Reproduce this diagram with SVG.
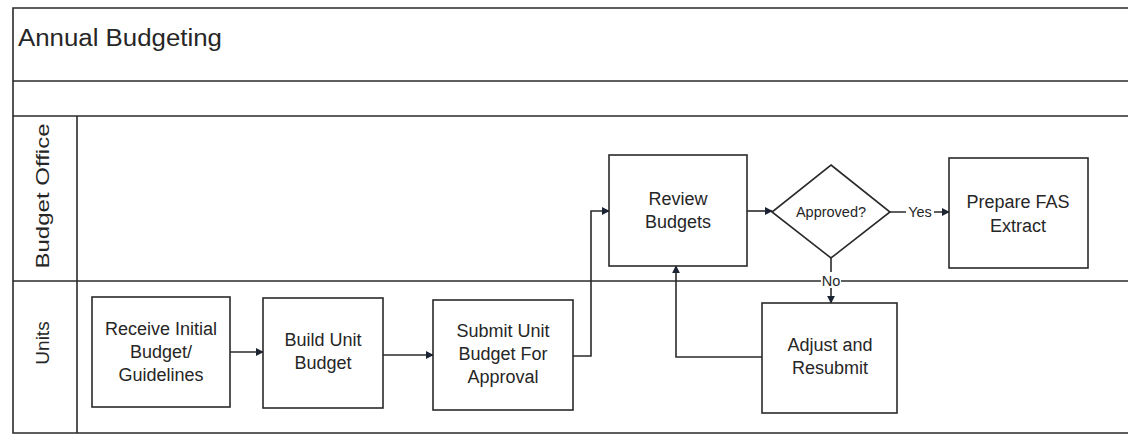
<svg xmlns="http://www.w3.org/2000/svg" width="1128" height="438" viewBox="0 0 1128 438">
<style>
.frame{fill:none;stroke:#2a2a2a;stroke-width:1.6}
.box{fill:#ffffff;stroke:#2a2a2a;stroke-width:1.6}
.t{font-family:"Liberation Sans",Arial,sans-serif;font-size:18px;fill:#262626;text-anchor:middle}
.lbl{font-family:"Liberation Sans",Arial,sans-serif;font-size:14.5px;fill:#262626;text-anchor:middle}
.lane{font-family:"Liberation Sans",Arial,sans-serif;font-size:19px;fill:#262626;text-anchor:middle}
.title{font-family:"Liberation Sans",Arial,sans-serif;font-size:23px;fill:#262626}
.c{fill:none;stroke:#2a2a2a;stroke-width:1.6}
</style>
<defs>
<marker id="ah" viewBox="0 0 10 10" refX="9" refY="5" markerWidth="8" markerHeight="8" markerUnits="userSpaceOnUse" orient="auto">
<path d="M0,0 L10,5 L0,10 Z" fill="#1c2433"/>
</marker>
</defs>
<g id="pool">
<polyline class="frame" points="1128,8 13,8 13,433 1128,433"/>
<line class="frame" x1="13" y1="81" x2="1128" y2="81"/>
<line class="frame" x1="13" y1="116" x2="1128" y2="116"/>
<line class="frame" x1="13" y1="281" x2="1128" y2="281"/>
<line class="frame" x1="77" y1="116" x2="77" y2="433"/>
<text class="title" x="18" y="46" textLength="204" lengthAdjust="spacingAndGlyphs">Annual Budgeting</text>
</g>
<g id="lane-budget-office">
<text class="lane" transform="translate(49,196) rotate(-90)" textLength="145" lengthAdjust="spacingAndGlyphs">Budget Office</text>
</g>
<g id="lane-units">
<text class="lane" transform="translate(49,343) rotate(-90)">Units</text>
</g>
<g id="connectors">
<line class="c" x1="230" y1="352" x2="263" y2="352" marker-end="url(#ah)"/>
<line class="c" x1="383" y1="355" x2="433" y2="355" marker-end="url(#ah)"/>
<polyline class="c" points="573,356 591,356 591,211 609,211" marker-end="url(#ah)"/>
<line class="c" x1="747" y1="211" x2="772" y2="211" marker-end="url(#ah)"/>
<line class="c" x1="890" y1="212" x2="949" y2="212" marker-end="url(#ah)"/>
<line class="c" x1="831" y1="258" x2="831" y2="303" marker-end="url(#ah)"/>
<polyline class="c" points="762,357 676,357 676,266" marker-end="url(#ah)"/>
<rect x="906" y="203" width="28" height="17" fill="#ffffff"/>
<text class="lbl" x="920" y="217">Yes</text>
<rect x="821" y="272" width="20" height="16" fill="#ffffff"/>
<text class="lbl" x="831" y="286">No</text>
</g>
<g id="receive">
<rect class="box" x="92" y="297" width="138" height="110"/>
<text class="t" x="161" y="335">Receive Initial</text>
<text class="t" x="161" y="358">Budget/</text>
<text class="t" x="161" y="381">Guidelines</text>
</g>
<g id="build">
<rect class="box" x="263" y="298" width="120" height="110"/>
<text class="t" x="323" y="346">Build Unit</text>
<text class="t" x="323" y="369">Budget</text>
</g>
<g id="submit">
<rect class="box" x="433" y="300" width="140" height="110"/>
<text class="t" x="503" y="337">Submit Unit</text>
<text class="t" x="503" y="360">Budget For</text>
<text class="t" x="503" y="383">Approval</text>
</g>
<g id="review">
<rect class="box" x="609" y="155" width="138" height="111"/>
<text class="t" x="678" y="205">Review</text>
<text class="t" x="678" y="228">Budgets</text>
</g>
<g id="approved">
<polygon class="box" points="831,165 890,212 831,258 772,212"/>
<text class="lbl" x="831" y="217">Approved?</text>
</g>
<g id="prepare">
<rect class="box" x="949" y="158" width="139" height="110"/>
<text class="t" x="1018" y="208">Prepare FAS</text>
<text class="t" x="1018" y="232">Extract</text>
</g>
<g id="adjust">
<rect class="box" x="762" y="303" width="135" height="110"/>
<text class="t" x="830" y="351">Adjust and</text>
<text class="t" x="830" y="374">Resubmit</text>
</g>
</svg>
